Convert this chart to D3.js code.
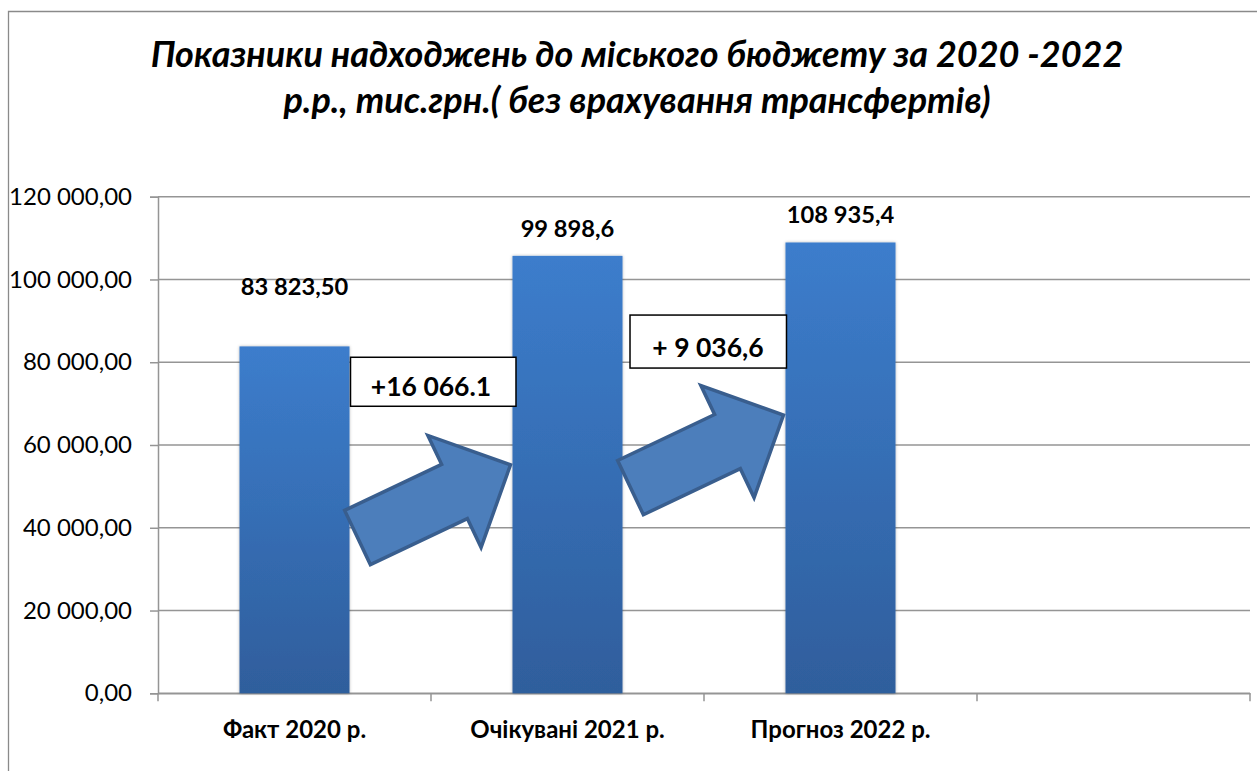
<!DOCTYPE html>
<html>
<head>
<meta charset="utf-8">
<script src="https://cdn.jsdelivr.net/npm/d3@7"></script>
<style>
  body { margin: 0; background: #fff; }
  svg { display: block; font-family: Lato, "Open Sans", sans-serif; }
</style>
</head>
<body>
<svg id="chart" width="1257" height="771"></svg>
<script>
// data
const categories = ["Факт 2020 р.", "Очікувані 2021 р.", "Прогноз 2022 р.", ""];
const values = [83823.5, 105700, 108935.4];
const valueLabels = ["83 823,50", "99 898,6", "108 935,4"];
const labelLift = [51, 19, 19];
const yTicks = [0, 20000, 40000, 60000, 80000, 100000, 120000];
const titleLines = ["Показники надходжень до міського бюджету за 2020 -2022", "р.р., тис.грн.( без врахування трансфертів)"];

// growth annotations: box text, box top value, arrow tail/tip values
const deltas = [
    { from: 0, to: 1, text: "+16 066.1", boxTop: 81200, boxH: 49, tail: 37650, tip: 55200 },
    { from: 1, to: 2, text: "+ 9 036,6", boxTop: 91400, boxH: 53, tail: 49700, tip: 67250 }
];

const FONT = "Lato, 'Open Sans', sans-serif";
const svg = d3.select("#chart");
const margin = { left: 158, right: 7, top: 196.7, bottom: 77.7 };
const W = 1257, H = 771;

const x = d3.scaleBand()
    .domain(categories)
    .range([margin.left, W - margin.right])
    .paddingInner(0.597)
    .paddingOuter(0.2985);

const y = d3.scaleLinear()
    .domain([0, 120000])
    .range([H - margin.bottom, margin.top]);

const fmt = d => d3.format(",.2f")(d).replace(/,/g, " ").replace(".", ",");

// outer chart border
svg.append("path")
    .attr("d", `M8.5,${H + 5} V11.5 H${W + 5}`)
    .attr("fill", "none")
    .attr("stroke", "#8a8a8a")
    .attr("stroke-width", 1.3);

// title
svg.append("g").selectAll("text")
    .data(titleLines)
    .join("text")
    .attr("x", 637)
    .attr("y", (d, i) => 67 + i * 46)
    .attr("text-anchor", "middle")
    .attr("font-family", FONT)
    .attr("font-size", 36)
    .attr("font-weight", "bold")
    .attr("font-style", "italic")
    .attr("fill", "#000")
    .text(d => d);

// gradient + soft shadow for bars
const defs = svg.append("defs");
const grad = defs.append("linearGradient")
    .attr("id", "barGrad")
    .attr("x1", 0).attr("y1", 0).attr("x2", 0).attr("y2", 1);
grad.append("stop").attr("offset", "0%").attr("stop-color", "#3c7dcc");
grad.append("stop").attr("offset", "100%").attr("stop-color", "#2f5e9c");

defs.append("filter")
    .attr("id", "shadow")
    .attr("x", "-10%").attr("y", "-10%").attr("width", "120%").attr("height", "120%")
    .append("feDropShadow")
    .attr("dx", 0).attr("dy", 0).attr("stdDeviation", 1.5)
    .attr("flood-color", "#000").attr("flood-opacity", 0.3);

// gridlines
svg.append("g").selectAll("line")
    .data(yTicks)
    .join("line")
    .attr("x1", margin.left)
    .attr("x2", W - margin.right)
    .attr("y1", d => y(d))
    .attr("y2", d => y(d))
    .attr("stroke", "#959595")
    .attr("stroke-width", 1.5);

// y axis
const yAxis = svg.append("g")
    .attr("transform", `translate(${margin.left},0)`)
    .call(d3.axisLeft(y).tickValues(yTicks).tickFormat(fmt).tickSize(8).tickPadding(18));
yAxis.attr("font-family", FONT).attr("font-size", 24);
yAxis.select(".domain").attr("stroke", "#959595").attr("stroke-width", 1.5);
yAxis.selectAll(".tick line").attr("stroke", "#959595").attr("stroke-width", 1.5);
yAxis.selectAll(".tick text").attr("fill", "#000");

// x axis
const xAxis = svg.append("g")
    .attr("transform", `translate(0,${y(0)})`)
    .call(d3.axisBottom(x).tickSize(0).tickPadding(0));
xAxis.attr("font-family", FONT).attr("font-size", 24).attr("font-weight", "bold");
xAxis.select(".domain").attr("stroke", "#959595").attr("stroke-width", 1.5);
xAxis.selectAll(".tick text")
    .attr("dy", 0)
    .attr("y", 45)
    .attr("fill", "#000");

// category boundary ticks
const step = x.step();
const bounds = d3.range(categories.length + 1).map(i => margin.left + i * step);
svg.append("g").selectAll("line")
    .data(bounds)
    .join("line")
    .attr("x1", d => d).attr("x2", d => d)
    .attr("y1", y(0)).attr("y2", y(0) + 8)
    .attr("stroke", "#959595")
    .attr("stroke-width", 1.5);

// bars
svg.append("g").selectAll("rect")
    .data(values)
    .join("rect")
    .attr("x", (d, i) => x(categories[i]))
    .attr("y", d => y(d))
    .attr("width", x.bandwidth())
    .attr("height", d => y(0) - y(d))
    .attr("fill", "url(#barGrad)")
    .attr("filter", "url(#shadow)");

// value labels
svg.append("g").selectAll("text")
    .data(values)
    .join("text")
    .attr("x", (d, i) => x(categories[i]) + x.bandwidth() / 2)
    .attr("y", (d, i) => y(d) - labelLift[i])
    .attr("text-anchor", "middle")
    .attr("font-family", FONT)
    .attr("font-size", 23.7)
    .attr("font-weight", "bold")
    .attr("fill", "#000")
    .text((d, i) => valueLabels[i]);

// block arrows between bars
function arrowPath(len) {
    const sw = 30, hw = 62, hl = 62;
    return `M0,${-sw} L${len - hl},${-sw} L${len - hl},${-hw} L${len},0 L${len - hl},${hw} L${len - hl},${sw} L0,${sw} Z`;
}

svg.append("g").selectAll("path")
    .data(deltas)
    .join("path")
    .each(function(d) {
        const x0 = x(categories[d.from]) + x.bandwidth() + 8;
        const y0 = y(d.tail);
        const x1 = x(categories[d.to]) - 2;
        const y1 = y(d.tip);
        const len = Math.hypot(x1 - x0, y1 - y0);
        const ang = Math.atan2(y1 - y0, x1 - x0) * 180 / Math.PI;
        d3.select(this)
            .attr("d", arrowPath(len))
            .attr("transform", `translate(${x0},${y0}) rotate(${ang})`);
    })
    .attr("fill", "#4c7ebb")
    .attr("stroke", "#395e8e")
    .attr("stroke-width", 3.5)
    .attr("stroke-linejoin", "miter");

// delta boxes
const boxes = svg.append("g").selectAll("g")
    .data(deltas)
    .join("g");

boxes.append("rect")
    .attr("x", (d, i) => x(categories[d.from]) + x.bandwidth() + (i === 0 ? 1 : 7.5))
    .attr("y", d => y(d.boxTop))
    .attr("width", (d, i) => (x(categories[d.to]) - x(categories[d.from]) - x.bandwidth()) + (i === 0 ? 2.5 : -6.5))
    .attr("height", d => d.boxH)
    .attr("fill", "#fff")
    .attr("stroke", "#000")
    .attr("stroke-width", 1.5);

boxes.append("text")
    .attr("x", (d, i) => x(categories[d.from]) + x.bandwidth() + (x(categories[d.to]) - x(categories[d.from]) - x.bandwidth()) / 2 + (i === 0 ? 0 : 4))
    .attr("y", d => y(d.boxTop) + d.boxH * 0.79)
    .attr("text-anchor", "middle")
    .attr("font-family", FONT)
    .attr("font-size", 26.5)
    .attr("font-weight", "bold")
    .attr("fill", "#000")
    .text(d => d.text);
</script>
</body>
</html>
